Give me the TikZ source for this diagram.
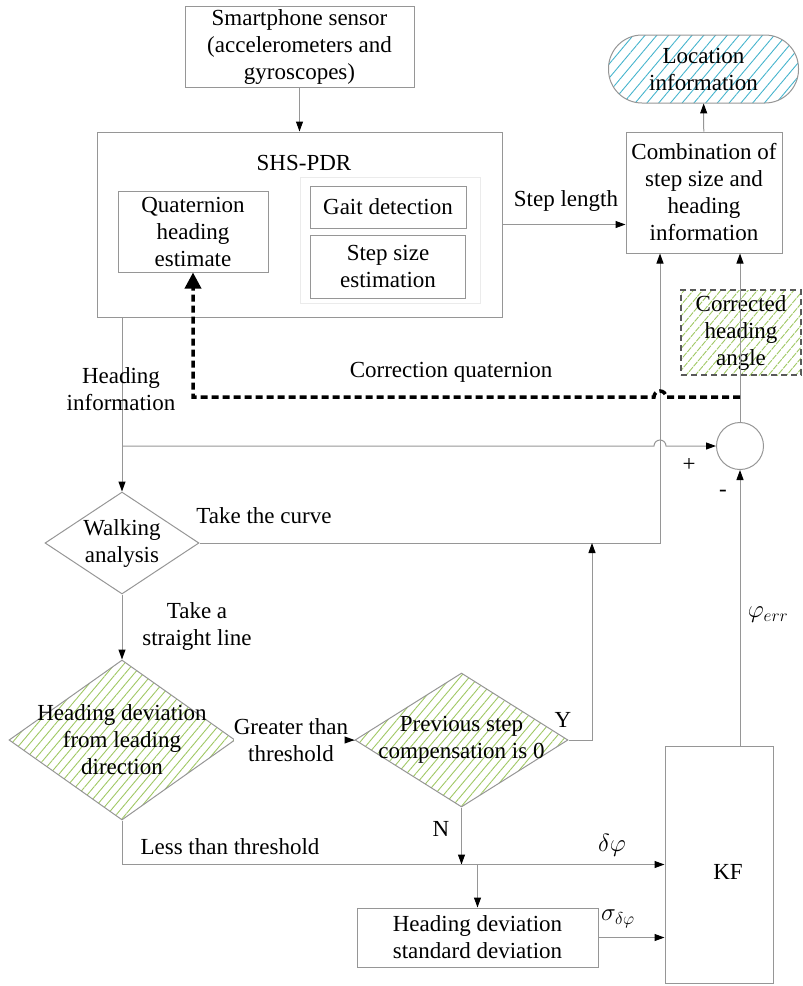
\documentclass[tikz,border=0pt]{standalone}
\usepackage{fontspec}
\setmainfont{Liberation Serif}
\usetikzlibrary{arrows.meta,positioning,shapes.geometric,patterns.meta}

\definecolor{linegray}{RGB}{150,150,150}
\definecolor{hatchgreen}{RGB}{160,200,100}
\definecolor{hatchcyan}{RGB}{70,180,205}

\begin{document}
\begin{tikzpicture}[
  x=1pt, y=-1pt,
  font={\fontsize{23}{27}\selectfont},
  box/.style={draw=linegray, line width=1pt, align=center, inner sep=2pt},
  dia/.style={diamond, draw=linegray, line width=1pt, inner sep=0pt},
  greenhatch/.style={pattern={Lines[angle=50,distance=7pt,line width=0.9pt]}, pattern color=hatchgreen},
  cyanhatch/.style={pattern={Lines[angle=50,distance=9pt,line width=0.9pt]}, pattern color=hatchcyan},
  arr/.style={draw=linegray, line width=1pt, -{Triangle[length=10pt,width=7pt,color=black]}},
  link/.style={draw=linegray, line width=1pt},
  qarr/.style={line width=3.5pt, dash pattern=on 7pt off 4pt, -{Triangle[length=16pt,width=16pt]}},
  note/.style={align=center, inner sep=1pt}
]
\useasboundingbox (0,0) rectangle (803,986);

% top part
\node[box, minimum width=229pt, minimum height=81pt] (sensor) at (299.5,46.5) {Smartphone sensor\\(accelerometers and\\gyroscopes)};
\node[box, minimum width=405pt, minimum height=185pt] (shs) at (299.5,224.5) {};
\node[note] (shstitle) at (304,163) {SHS-PDR};
\node[box, minimum width=150pt, minimum height=81pt] (quat) at (193,231.5) {Quaternion\\heading\\estimate};
\node[draw=black!8, minimum width=180pt, minimum height=126pt] (gaitgroup) at (390,240) {};
\node[box, minimum width=156pt, minimum height=42pt] (gait) at (388,207) {Gait detection};
\node[box, minimum width=155pt, minimum height=63pt, below=6pt of gait] (stepsize) {Step size\\estimation};

\node[box, minimum width=156pt, minimum height=121pt] (comb) at (704,192.5) {Combination of\\step size and\\heading\\information};
\node[box, cyanhatch, rounded corners=33.5pt, minimum width=190pt, minimum height=68pt] (loc) at (703.5,69) {Location\\information};
\node[box, greenhatch, draw=black!65, line width=1.5pt, dash pattern=on 6pt off 4pt,
  minimum width=120pt, minimum height=85pt] (corr) at (741,332.5) {Corrected\\heading\\angle};
\node[circle, draw=linegray, line width=1pt, minimum size=47pt, inner sep=0pt] (sum) at (740,446) {};

% decisions
\node[dia, minimum width=154pt, minimum height=102pt, label={[note]center:Walking\\analysis}] (walk) at (122,543) {};
\node[dia, greenhatch, minimum width=226pt, minimum height=160pt,
  label={[note]center:Heading deviation\\from leading\\direction}] (hd) at (122,740) {};
\node[dia, greenhatch, minimum width=213pt, minimum height=134pt,
  label={[note]center:Previous step\\compensation is 0}] (prev) at (461.5,740) {};
\node[box, minimum width=241pt, minimum height=59pt] (std) at (477.5,937.5) {Heading deviation\\standard deviation};
\node[box, minimum width=108pt, minimum height=237pt, label={[xshift=9pt,yshift=-7pt]center:KF}] (kf) at (719,864.5) {};

\coordinate (bend) at (660,543);
\coordinate (yjoin) at (592,543);
\coordinate (tap) at (740,397);

% connectors
\draw[arr] (sensor) -- (shs);
\draw[arr] (shs.east) -- (shs.east -| comb.west);
\draw[arr] (comb) -- (loc);
\draw[arr] (walk.north |- shs.south) -- (walk.north);
\draw[arr] (walk.north |- sum.west) -- ([xshift=-6pt]bend |- sum.west)
  arc[start angle=180, end angle=0, radius=6pt] -- (sum.west);
\draw[arr] (walk.east) -- (bend) -- (bend |- comb.south);
\draw[arr] (sum.north) -- (sum.north |- comb.south);
\draw[qarr] (tap) -- ([xshift=6pt]bend |- tap)
  arc[start angle=0, end angle=180, radius=6pt] -- (quat.south |- tap) -- (quat.south);
\draw[arr] (walk.south) -- (hd.north);
\draw[link] (hd.east) -- (prev.west);
\draw[arr] (prev.east) -| (yjoin);
\draw[arr] (prev.south) -- (prev.south |- kf.west);
\draw[arr] (hd.south) |- (kf.west);
\draw[arr] (std.north |- kf.west) -- (std.north);
\draw[arr] (std.east) -- (std.east -| kf.west);
\draw[arr] (sum.south |- kf.north) -- (sum.south);

% labels
\node[note] (headlbl) at (121,389.5) {Heading\\information};
\node[note] (corrlbl) at (451,372) {Correction quaternion};
\node[note] (steplbl) at (566,201) {Step length};
\node[note] (curvelbl) at (264,516) {Take the curve};
\node[note] (straightlbl) at (197,626.5) {Take a\\straight line};
\node[note, fill=white, inner sep=0pt] (greaterlbl) at (291,740.5) {Greater than\\threshold};
\draw[arr] (greaterlbl.east |- prev.west) -- (prev.west);
\node[note] (ylbl) at (563,720) {Y};
\node[note] (nlbl) at (441,829) {N};
\node[note] (lesslbl) at (230,847) {Less than threshold};
\node[note] (dphilbl) at (612,845) {$\delta\varphi$};
\node[note] (sigmalbl) at (618,919) {$\sigma_{\delta\varphi}$};
\node[note] (errlbl) at (768,615) {$\varphi_{err}$};
\node[note] (pluslbl) at (689,465) {+};
\node[note] (minuslbl) at (723,493) {-};

\end{tikzpicture}
\end{document}
